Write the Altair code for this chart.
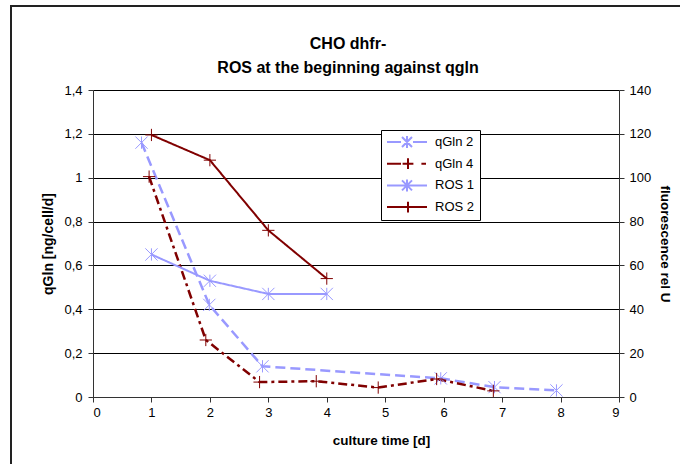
import altair as alt
import pandas as pd

# ---- data ----
series_names = ["qGln 2", "qGln 4", "ROS 1", "ROS 2"]

qgln2_x = [0.83, 1.99, 2.90, 5.95, 6.87, 7.93]
qgln2_y = [1.16, 0.42, 0.14, 0.085, 0.045, 0.03]

qgln4_x = [0.96, 1.93, 2.85, 3.82, 4.88, 5.88, 6.85]
qgln4_y = [1.005, 0.26, 0.068, 0.072, 0.043, 0.082, 0.028]

ros1_x = [1, 2, 3, 4]
ros1_y = [65, 53, 47, 47]

ros2_x = [1, 2, 3, 4]
ros2_y = [119.5, 108, 76, 54]

x_ticks = list(range(0, 10))
left_ticks = [0, 0.2, 0.4, 0.6, 0.8, 1.0, 1.2, 1.4]
right_ticks = [0, 20, 40, 60, 80, 100, 120, 140]

# ---- styles ----
FONT = "Liberation Sans"
colors = ["#9999FF", "#800000", "#9999FF", "#800000"]
ASTER = "M-1,-1L1,1M-1,1L1,-1M0,-1L0,1"
PLUS = "M-1,0L1,0M0,-1L0,1"
marker_paths = [ASTER, PLUS, ASTER, PLUS]
dashes = [[10, 5], [9, 4, 3, 4], [1, 0], [1, 0]]
legend_paths = [
    "M-1,0L-0.3,0M0.3,0L1,0M-0.25,-0.25L0.25,0.25M-0.25,0.25L0.25,-0.25M0,-0.3L0,0.3",
    "M-1,0L-0.3,0M0.72,0L0.95,0M-0.22,0L0.32,0M0.05,-0.27L0.05,0.27",
    "M-1,0L1,0M-0.25,-0.25L0.25,0.25M-0.25,0.25L0.25,-0.25M0,-0.3L0,0.3",
    "M-1,0L1,0M0.05,-0.27L0.05,0.27",
]

rows = []
for name, xs, ys in [("qGln 2", qgln2_x, qgln2_y), ("qGln 4", qgln4_x, qgln4_y)]:
    for i, (a, b) in enumerate(zip(xs, ys)):
        rows.append({"series": name, "t": a, "v": b, "order": i, "axis": "left"})
for name, xs, ys in [("ROS 1", ros1_x, ros1_y), ("ROS 2", ros2_x, ros2_y)]:
    for i, (a, b) in enumerate(zip(xs, ys)):
        rows.append({"series": name, "t": a, "v": b, "order": i, "axis": "right"})
df = pd.DataFrame(rows)

dash_scale = alt.Scale(domain=series_names, range=dashes)
shape_scale = alt.Scale(domain=series_names, range=marker_paths)

x_enc = alt.X(
    "t:Q",
    scale=alt.Scale(domain=[0, 9], nice=False),
    axis=alt.Axis(
        values=x_ticks, title="culture time [d]", grid=False,
        tickSize=5, labelPadding=4, titlePadding=14,
        titleX=288, titleAlign="center",
        domainColor="#333", tickColor="#333",
        labelFont=FONT, labelFontSize=13, labelColor="#000",
        titleFont=FONT, titleFontSize=13.5, titleFontWeight="bold", titleColor="#000",
    ),
)

base = alt.Chart(df)


def series_layer(axis_side, y_axis, y_domain, stroke_width):
    sub = base.transform_filter(alt.datum.axis == axis_side)
    y_enc = alt.Y("v:Q", scale=alt.Scale(domain=y_domain, nice=False), axis=y_axis)
    cscale = alt.Scale(domain=series_names, range=colors)
    lines = sub.mark_line(strokeWidth=stroke_width).encode(
        x=x_enc,
        y=y_enc,
        color=alt.Color("series:N", scale=cscale, legend=None),
        strokeDash=alt.StrokeDash("series:N", scale=dash_scale, legend=None),
        detail="series:N",
        order="order:Q",
    )
    pts = sub.mark_point(filled=False, size=150, strokeWidth=1, opacity=1).encode(
        x=x_enc,
        y=y_enc,
        color=alt.Color("series:N", scale=cscale, legend=None),
        shape=alt.Shape("series:N", scale=shape_scale, legend=None),
    )
    return alt.layer(lines, pts)


left_axis = alt.Axis(
    values=left_ticks, orient="left", title="qGln [ng/cell/d]",
    labelExpr="replace(toString(datum.value), '.', ',')",
    grid=True, gridColor="#000", gridWidth=1,
    tickSize=5, labelPadding=6, titlePadding=8,
    domainColor="#333", tickColor="#333",
    labelFont=FONT, labelFontSize=13, labelColor="#000",
    titleFont=FONT, titleFontSize=14, titleFontWeight="bold", titleColor="#000",
)
right_axis = alt.Axis(
    values=right_ticks, orient="right", title="fluorescence rel U",
    grid=False, tickSize=5, labelPadding=5, titlePadding=7,
    domainColor="#333", tickColor="#333",
    labelFont=FONT, labelFontSize=13, labelColor="#000",
    titleFont=FONT, titleFontSize=13.5, titleFontWeight="bold", titleColor="#000",
)

left_layer = series_layer("left", left_axis, [0, 1.4], 2.5)
right_layer = series_layer("right", right_axis, [0, 140], 2)

leg = dict(
    title=None, orient="none", legendX=288, legendY=40,
    fillColor="white", strokeColor="black", padding=5,
    clipHeight=14, rowPadding=7.7, symbolSize=1600,
    symbolStrokeWidth=2, labelOffset=7,
    labelFont=FONT, labelFontSize=13, labelColor="#000",
)
legend_layer = base.transform_filter("false").mark_point(filled=False, opacity=1).encode(
    x=x_enc,
    color=alt.Color("series:N", scale=alt.Scale(domain=series_names, range=colors),
                    legend=alt.Legend(**leg)),
    shape=alt.Shape("series:N", scale=alt.Scale(domain=series_names, range=legend_paths),
                    legend=alt.Legend(**leg)),
)

frame = alt.Chart(pd.DataFrame({"k": [0]})).mark_rect(
    fill="transparent", stroke="#222", strokeWidth=2
).encode(
    x=alt.value(-82), x2=alt.value(600), y=alt.value(-84), y2=alt.value(400)
)

chart = alt.layer(frame, left_layer, right_layer, legend_layer).resolve_scale(
    y="independent", shape="independent", color="independent"
).properties(
    width=526,
    height=307,
    padding={"left": 93, "top": 90, "right": 61, "bottom": 67},
    autosize=alt.AutoSizeParams(type="none"),
    title=alt.TitleParams(
        ["CHO dhfr-", "ROS at the beginning against qgln"],
        font=FONT, fontSize=16, fontWeight="bold", color="#000",
        anchor="middle", frame="group", dx=-8, offset=-71, lineHeight=24,
    ),
).configure_view(stroke="transparent").configure(background="white")

chart.save("out.html", embed_options={"renderer": "svg", "actions": False})
